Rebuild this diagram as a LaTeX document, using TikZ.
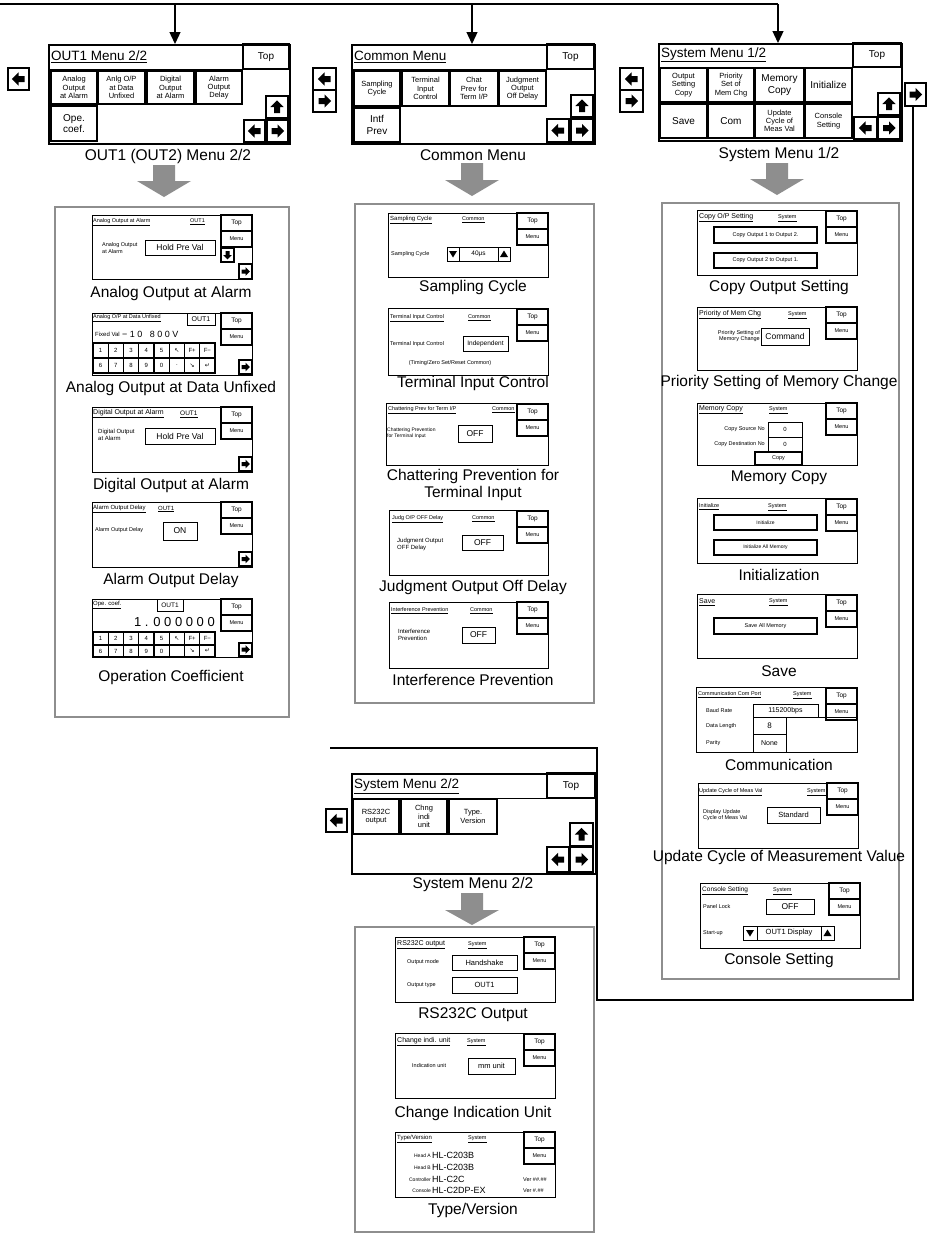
\documentclass[tikz,border=0pt]{standalone}
\usepackage{fontspec}
\setmainfont{Liberation Sans}
\newfontfamily\symf{DejaVu Sans}
\usetikzlibrary{arrows.meta}
\definecolor{grp}{HTML}{8E8E8E}
\definecolor{garr}{HTML}{8E8E8E}
\newcommand{\fs}[2]{\fontsize{#1}{#2}\selectfont}
\tikzset{
  menuframe/.style={draw, line width=1.6pt, inner sep=0pt, anchor=north west},
  thinbox/.style={draw, line width=0.8pt},
  mbtn/.style={draw, line width=1.7pt},
  abst/.style={draw, fill=white, line width=1.1pt},
  pframe/.style={draw, line width=1pt, inner sep=0pt, anchor=north west},
  pbtn/.style={draw, fill=white, line width=1.3pt},
  vbox/.style={draw, line width=0.8pt},
  grpbox/.style={draw=grp, line width=2pt, inner sep=0pt, anchor=north west},
  flow/.style={draw, line width=1.3pt},
  flowtip/.style={-{Triangle[width=11pt,length=12pt]}},
  capt/.style={font=\fs{15.5}{17}, inner sep=0pt, align=center},
  ptl/.style={font=\fs{5.5}{6}, anchor=west, inner sep=0pt},
  plab/.style={font=\fs{5.5}{6.5}, anchor=west, inner sep=0pt, align=left},
  pval/.style={font=\fs{8.5}{9}, inner sep=0pt},
  mtxt/.style={font=\fs{7.5}{8.2}, align=center, inner sep=0pt},
  mttl/.style={font=\fs{13.5}{14}, anchor=west, inner sep=0pt},
  mtop/.style={font=\fs{10}{11}, inner sep=0pt},
}
\newcommand{\icoR}[3]{\fill[shift={(#1,#2)},scale=#3] (-5,-2.5)--(0,-2.5)--(0,-5.5)--(5.5,0)--(0,5.5)--(0,2.5)--(-5,2.5)--cycle;}
\newcommand{\icoL}[3]{\fill[shift={(#1,#2)},scale=#3] (5,-2.5)--(0,-2.5)--(0,-5.5)--(-5.5,0)--(0,5.5)--(0,2.5)--(5,2.5)--cycle;}
\newcommand{\icoU}[3]{\fill[shift={(#1,#2)},scale=#3] (-2.5,5)--(-2.5,0)--(-5.5,0)--(0,-5.5)--(5.5,0)--(2.5,0)--(2.5,5)--cycle;}
\newcommand{\icoD}[3]{\fill[shift={(#1,#2)},scale=#3] (-2.5,-5)--(-2.5,0)--(-5.5,0)--(0,5.5)--(5.5,0)--(2.5,0)--(2.5,-5)--cycle;}
\newcommand{\abtn}[6]{\draw[abst] (#1,#2) rectangle (#3,#4);\pgfmathsetmacro\abx{(#1+#3)/2}\pgfmathsetmacro\aby{(#2+#4)/2}\csname ico#5\endcsname{\abx}{\aby}{#6}}
\newcommand{\topmenu}[2]{\draw[pbtn] (#1-31,#2) rectangle (#1,#2+16);\node[font=\fs{6.5}{7},inner sep=0] at (#1-15.5,#2+8) {Top};\draw[pbtn] (#1-31,#2+16) rectangle (#1,#2+32);\node[font=\fs{5.5}{6},inner sep=0] at (#1-15.5,#2+24) {Menu};}
\newcommand{\pnl}[5]{\node[pframe, minimum width=#4pt, minimum height=#5pt] (#1) at (#2,#3) {};}
\newcommand{\garrow}[4]{\fill[garr] (#1-11,#2) -- (#1+11,#2) -- (#1+11,#3) -- (#1+27,#3) -- (#1,#4) -- (#1-27,#3) -- (#1-11,#3) -- cycle;}
\newcommand{\triD}[2]{\fill (#1-4,#2-3) -- (#1+4,#2-3) -- (#1,#2+3.5) -- cycle;}
\newcommand{\triU}[2]{\fill (#1-4,#2+3) -- (#1+4,#2+3) -- (#1,#2-3.5) -- cycle;}
\newcommand{\keyrow}[4]{\foreach \l [count=\i from 0] in {#4} {\pgfmathsetmacro\ka{#1+\i*15.25}\pgfmathsetmacro\kb{\ka+15.25}\pgfmathsetmacro\kc{\ka+7.625}\draw[line width=1.4pt] (\ka,#2) rectangle (\kb,#3);\node[font=\fs{6}{6},inner sep=0] at (\kc,{(#2+#3)/2}) {\l};}}
\begin{document}
\begin{tikzpicture}[x=1pt,y=-1pt]
\useasboundingbox (0,0) rectangle (927,1235);
\fill[white] (0,0) rectangle (927,1235);

% ---------------- menu frames and flow lines ----------------
\node[menuframe, minimum width=241pt, minimum height=99pt] (m1) at (48,44) {};
\node[menuframe, minimum width=243pt, minimum height=99pt] (m2) at (351,44) {};
\node[menuframe, minimum width=243pt, minimum height=97pt] (m3) at (658,43) {};
\node[menuframe, minimum width=244pt, minimum height=100pt] (m4) at (351,773) {};
\coordinate (t0) at (0,4);
\coordinate (t1) at (175,4);
\coordinate (t2) at (472,4);
\coordinate (t3) at (778,4);
\draw[flow] (t0) -- (t3);
\draw[flow, flowtip] (t1) -- (t1 |- m1.north);
\draw[flow, flowtip] (t2) -- (t2 |- m2.north);
\draw[flow, flowtip] (t3) -- (t3 |- m3.north);
\coordinate (rb) at (913,106);
\coordinate (rc) at (913,1000);
\coordinate (rd) at (597,1000);
\coordinate (re) at (597,748);
\coordinate (rf) at (330,748);
\draw[flow] (rb) -- (rc) -- (rd) -- (re) -- (rf);

% ---------------- Menu 1: OUT1 Menu 2/2 ----------------
\draw[thinbox] (48,44) rectangle (243,69);
\node[mttl] (m1t) at (51,57) {\underline{OUT1 Menu 2/2}};
\draw[mbtn] (243,44) rectangle (289,69);
\node[mtop] (m1top) at (266,57) {Top};
\draw[mbtn] (51,71) rectangle (97,104); \node[mtxt] (m1b1) at (74,87.5) {Analog\\Output\\at Alarm};
\draw[mbtn] (98,71) rectangle (145,104); \node[mtxt] (m1b2) at (121.5,87.5) {Anlg O/P\\at Data\\Unfixed};
\draw[mbtn] (147,71) rectangle (194,104); \node[mtxt] (m1b3) at (170.5,87.5) {Digital\\Output\\at Alarm};
\draw[mbtn] (196,71) rectangle (242,104); \node[mtxt] (m1b4) at (219,87.5) {Alarm\\Output\\Delay};
\draw[mbtn] (51,106) rectangle (97,141); \node[mtxt, font=\fs{10}{11.5}] (m1b5) at (74,123.5) {Ope.\\coef.};
\abtn{266}{96}{288}{118}{U}{1.2}
\abtn{244}{120}{265}{142}{L}{1.2}
\abtn{267}{120}{288}{142}{R}{1.2}
\abtn{8}{68}{29}{90}{L}{1.2}
\node[capt] (c1) at (168,156) {OUT1 (OUT2) Menu 2/2};

% ---------------- Menu 2: Common Menu ----------------
\draw[thinbox] (351,44) rectangle (547,69);
\node[mttl] (m2t) at (354,57) {\underline{Common Menu}};
\draw[mbtn] (547,44) rectangle (594,69);
\node[mtop] (m2top) at (570.5,57) {Top};
\draw[mbtn] (354,71) rectangle (400,106); \node[mtxt] (m2b1) at (377,88.5) {Sampling\\Cycle};
\draw[mbtn] (402,71) rectangle (449,106); \node[mtxt] (m2b2) at (425.5,88.5) {Terminal\\Input\\Control};
\draw[mbtn] (450,71) rectangle (498,106); \node[mtxt] (m2b3) at (474,88.5) {Chat\\Prev for\\Term I/P};
\draw[mbtn] (499,71) rectangle (546,106); \node[mtxt] (m2b4) at (522.5,88.5) {Judgment\\Output\\Off Delay};
\draw[mbtn] (354,108) rectangle (400,142); \node[mtxt, font=\fs{10}{11.5}] (m2b5) at (377,125) {Intf\\Prev};
\abtn{571}{95}{593}{117}{U}{1.2}
\abtn{547}{119}{569}{142}{L}{1.2}
\abtn{571}{119}{593}{142}{R}{1.2}
\abtn{313}{68}{336}{90}{L}{1.2}
\abtn{313}{90}{336}{112}{R}{1.2}
\node[capt] (c2) at (473,155) {Common Menu};

% ---------------- Menu 3: System Menu 1/2 ----------------
\draw[thinbox] (658,43) rectangle (853,67);
\node[mttl] (m3t) at (661,55) {\underline{System Menu 1/2}};
\draw[mbtn] (853,43) rectangle (901,67);
\node[mtop] (m3top) at (877,55) {Top};
\draw[mbtn] (660,68) rectangle (707,102); \node[mtxt] (m3b1) at (683.5,85) {Output\\Setting\\Copy};
\draw[mbtn] (708,68) rectangle (754,102); \node[mtxt] (m3b2) at (731,85) {Priority\\Set of\\Mem Chg};
\draw[mbtn] (755,68) rectangle (804,102); \node[mtxt, font=\fs{10}{11.5}] (m3b3) at (779.5,85) {Memory\\Copy};
\draw[mbtn] (805,68) rectangle (852,102); \node[mtxt, font=\fs{10}{11.5}] (m3b4) at (828.5,85) {Initialize};
\draw[mbtn] (660,104) rectangle (707,138); \node[mtxt, font=\fs{10}{11.5}] (m3b5) at (683.5,121) {Save};
\draw[mbtn] (708,104) rectangle (754,138); \node[mtxt, font=\fs{10}{11.5}] (m3b6) at (731,121) {Com};
\draw[mbtn] (755,104) rectangle (804,138); \node[mtxt] (m3b7) at (779.5,121) {Update\\Cycle of\\Meas Val};
\draw[mbtn] (805,104) rectangle (852,138); \node[mtxt] (m3b8) at (828.5,121) {Console\\Setting};
\abtn{878}{93}{900}{115}{U}{1.2}
\abtn{854}{117}{877}{139}{L}{1.2}
\abtn{878}{117}{900}{139}{R}{1.2}
\abtn{620}{68}{643}{90}{L}{1.2}
\abtn{620}{90}{643}{112}{R}{1.2}
\abtn{905}{83}{926}{106}{R}{1.2}
\node[capt] (c3) at (779,154) {System Menu 1/2};

% ---------------- Menu 4: System Menu 2/2 ----------------
\draw[thinbox] (351,773) rectangle (547,798);
\node[mttl] (m4t) at (354,786) {\underline{System Menu 2/2}};
\draw[mbtn] (547,773) rectangle (595,798);
\node[mtop] (m4top) at (571,786) {Top};
\draw[mbtn] (353,799) rectangle (399,834); \node[mtxt] (m4b1) at (376,816.5) {RS232C\\output};
\draw[mbtn] (401,799) rectangle (447,834); \node[mtxt] (m4b2) at (424,816.5) {Chng\\indi\\unit};
\draw[mbtn] (449,799) rectangle (497,834); \node[mtxt] (m4b3) at (473,816.5) {Type.\\Version};
\abtn{570}{823}{593}{846}{U}{1.2}
\abtn{547}{847}{569}{872}{L}{1.2}
\abtn{570}{847}{593}{872}{R}{1.2}
\abtn{326}{809}{347}{832}{L}{1.2}
\node[capt] (c4) at (473,884) {System Menu 2/2};

% ---------------- gray arrows and group boxes ----------------
\garrow{164}{165}{181}{197}
\garrow{472}{163}{180}{196}
\garrow{777}{163}{179}{195}
\garrow{472}{893}{910}{925}
\node[grpbox, minimum width=234pt, minimum height=510pt] (gL) at (54,206) {};
\node[grpbox, minimum width=239pt, minimum height=499pt] (gM) at (354,203) {};
\node[grpbox, minimum width=237pt, minimum height=776pt] (gR) at (661,202) {};
\node[grpbox, minimum width=239pt, minimum height=305pt] (gB) at (354,926) {};

% ================= LEFT COLUMN =================
\pnl{pA1}{92}{215}{160}{64}
\node[ptl] at (93,222) {\underline{Analog Output at Alarm}};
\node[ptl] at (190,222) {\underline{OUT1}};
\topmenu{252}{215}
\node[plab] at (102,248) {Analog Output\\at Alarm};
\draw[vbox] (145,240) rectangle (215,255); \node[pval] at (180,247.5) {Hold Pre Val};
\abtn{221}{248}{234}{262}{D}{0.8}
\abtn{239}{264}{252}{279}{R}{0.8}
\node[capt] (kA1) at (171,293) {Analog Output at Alarm};

\pnl{pA2}{92}{313}{160}{62}
\node[ptl] at (93,318) {\underline{Analog O/P at Data Unfixed}};
\draw[vbox] (187,313) rectangle (215,325); \node[font=\fs{7}{7},inner sep=0] at (201,319) {OUT1};
\topmenu{252}{313}
\node[ptl, font=\fs{6}{6}] at (95,334) {Fixed Val};
\node[font=\fs{9}{9}, anchor=west, inner sep=0] at (122,334) {− 1 0~~~8 0 0 V};
\keyrow{93}{343}{358}{1,2,3,4,5,{\symf ↖},F+,F−}
\keyrow{93}{358}{373}{6,7,8,9,0,.,{\symf ↘},{\symf ↵}}
\abtn{239}{360}{252}{374}{R}{0.8}
\node[capt] (kA2) at (171,388) {Analog Output at Data Unfixed};

\pnl{pA3}{92}{407}{160}{65}
\node[ptl, font=\fs{7}{7}] at (93,414) {\underline{Digital Output at Alarm}};
\node[ptl, font=\fs{6.5}{7}] at (180,414) {\underline{OUT1}};
\topmenu{252}{407}
\node[plab, font=\fs{6}{7}] at (98,435) {Digital Output\\at Alarm};
\draw[vbox] (145,428) rectangle (215,444); \node[pval] at (180,436) {Hold Pre Val};
\abtn{239}{457}{252}{471}{R}{0.8}
\node[capt] (kA3) at (171,485) {Digital Output at Alarm};

\pnl{pA4}{92}{502}{160}{65}
\node[ptl, font=\fs{6}{6}] at (93,509) {\underline{Alarm Output Delay}};
\node[ptl, font=\fs{6}{6}] at (158,509) {\underline{OUT1}};
\topmenu{252}{502}
\node[plab] at (95,530) {Alarm Output Delay};
\draw[vbox] (163,522) rectangle (197,540); \node[pval] at (180,531) {ON};
\abtn{239}{552}{252}{566}{R}{0.8}
\node[capt] (kA4) at (171,580) {Alarm Output Delay};

\pnl{pA5}{92}{599}{160}{58}
\node[ptl, font=\fs{6}{6}] at (93,605) {\underline{Ope. coef.}};
\draw[vbox] (157,599) rectangle (183,611); \node[font=\fs{6.5}{7},inner sep=0] at (170,605) {OUT1};
\topmenu{252}{599}
\node[font=\fs{13}{13}, anchor=east, inner sep=0] at (215,622) {1 . 0 0 0 0 0 0};
\keyrow{93}{632}{645}{1,2,3,4,5,{\symf ↖},F+,F−}
\keyrow{93}{645}{657}{6,7,8,9,0,{},{\symf ↘},{\symf ↵}}
\abtn{239}{643}{252}{656}{R}{0.8}
\node[capt] (kA5) at (171,677) {Operation Coefficient};

% ================= MIDDLE COLUMN =================
\pnl{pB1}{388}{213}{160}{64}
\node[ptl, font=\fs{6}{6}] at (390,220) {\underline{Sampling Cycle}};
\node[ptl] at (462,220) {\underline{Common}};
\topmenu{548}{213}
\node[plab] at (391,254) {Sampling Cycle};
\draw[vbox] (447,247) rectangle (459,261); \triD{453}{254}
\draw[vbox] (459,247) rectangle (498,261); \node[font=\fs{6.5}{7},inner sep=0] at (478.5,254) {40μs};
\draw[vbox] (498,247) rectangle (510,261); \triU{504}{254}
\node[capt] (kB1) at (473,287) {Sampling Cycle};

\pnl{pB2}{388}{308}{160}{67}
\node[ptl] at (390,318) {\underline{Terminal Input Control}};
\node[ptl] at (468,318) {\underline{Common}};
\topmenu{548}{309}
\node[plab] at (390,344) {Terminal Input Control};
\draw[vbox] (463,336) rectangle (508,351); \node[font=\fs{6.5}{7},inner sep=0] at (485.5,343.5) {Independent};
\node[font=\fs{5.5}{6},inner sep=0] at (450,363) {(Timing/Zero Set/Reset Common)};
\node[capt] (kB2) at (473,383) {Terminal Input Control};

\pnl{pB3}{386}{403}{162}{62}
\node[ptl] at (388,410) {\underline{Chattering Prev for Term I/P}};
\node[ptl] at (492,410) {\underline{Common}};
\topmenu{548}{404}
\node[plab, font=\fs{5}{6}] at (387,433) {Chattering Prevention\\for Terminal Input};
\draw[vbox] (458,425) rectangle (492,442); \node[pval] at (475,433.5) {OFF};
\node[capt] (kB3) at (473,485) {Chattering Prevention for\\Terminal Input};

\pnl{pB4}{389}{510}{159}{65}
\node[ptl] at (392,519) {\underline{Judg O/P OFF Delay}};
\node[ptl] at (472,519) {\underline{Common}};
\topmenu{548}{511}
\node[plab, font=\fs{6}{7}] at (397,544) {Judgment Output\\OFF Delay};
\draw[vbox] (462,535) rectangle (503,550); \node[pval] at (482.5,542.5) {OFF};
\node[capt] (kB4) at (473,587) {Judgment Output Off Delay};

\pnl{pB5}{389}{602}{159}{66}
\node[ptl] at (391,611) {\underline{Interference Prevention}};
\node[ptl] at (470,611) {\underline{Common}};
\topmenu{548}{602}
\node[plab, font=\fs{6}{7}] at (398,635) {Interference\\Prevention};
\draw[vbox] (462,627) rectangle (495,643); \node[pval] at (478.5,635) {OFF};
\node[capt] (kB5) at (473,680) {Interference Prevention};

% ================= RIGHT COLUMN =================
\pnl{pC1}{697}{210}{160}{65}
\node[ptl, font=\fs{7}{7}] at (699,218) {\underline{Copy O/P Setting}};
\node[ptl] at (778,218) {\underline{System}};
\topmenu{857}{211}
\draw[pbtn] (714,227) rectangle (817,243); \node[font=\fs{5.5}{6},inner sep=0] at (765.5,235) {Copy Output 1 to Output 2.};
\draw[pbtn] (714,253) rectangle (817,268); \node[font=\fs{5.5}{6},inner sep=0] at (765.5,260.5) {Copy Output 2 to Output 1.};
\node[capt] (kC1) at (779,287) {Copy Output Setting};

\pnl{pC2}{697}{307}{160}{63}
\node[ptl, font=\fs{7}{7}] at (699,315) {\underline{Priority of Mem Chg}};
\node[ptl] at (788,315) {\underline{System}};
\topmenu{857}{307}
\node[font=\fs{5.5}{6.5}, anchor=east, align=right, inner sep=0] at (760,336) {Priority Setting of\\Memory Change};
\draw[vbox] (761,328) rectangle (809,345); \node[pval] at (785,336.5) {Command};
\node[capt] (kC2) at (779,382) {Priority Setting of Memory Change};

\pnl{pC3}{697}{403}{160}{62}
\node[ptl, font=\fs{7}{7}] at (699,410) {\underline{Memory Copy}};
\node[ptl] at (769,410) {\underline{System}};
\topmenu{857}{403}
\node[font=\fs{5.5}{6}, anchor=east, inner sep=0] at (765,429.5) {Copy Source No};
\draw[vbox] (768,422) rectangle (802,437); \node[font=\fs{6}{6},inner sep=0] at (785,429.5) {0};
\node[font=\fs{5.5}{6}, anchor=east, inner sep=0] at (765,444.5) {Copy Destination No};
\draw[vbox] (768,437) rectangle (802,452); \node[font=\fs{6}{6},inner sep=0] at (785,444.5) {0};
\draw[pbtn] (755,452) rectangle (802,465); \node[font=\fs{5.5}{6},inner sep=0] at (778.5,458.5) {Copy};
\node[capt] (kC3) at (779,478) {Memory Copy};

\pnl{pC4}{697}{498}{160}{65}
\node[ptl] at (699,507) {\underline{Initialize}};
\node[ptl] at (768,507) {\underline{System}};
\topmenu{857}{499}
\draw[pbtn] (714,515) rectangle (817,530); \node[font=\fs{5}{6},inner sep=0] at (765.5,522.5) {Initialize};
\draw[pbtn] (714,540) rectangle (817,555); \node[font=\fs{5}{6},inner sep=0] at (765.5,547.5) {Initialize All Memory};
\node[capt] (kC4) at (779,575) {Initialization};

\pnl{pC5}{697}{594}{160}{64}
\node[ptl, font=\fs{7}{7}] at (699,602) {\underline{Save}};
\node[ptl] at (769,602) {\underline{System}};
\topmenu{857}{595}
\draw[pbtn] (714,618) rectangle (817,634); \node[font=\fs{5.5}{6},inner sep=0] at (765.5,626) {Save All Memory};
\node[capt] (kC5) at (779,671) {Save};

\pnl{pC6}{696}{687}{161}{65}
\node[ptl] at (698,695) {\underline{Communication Com Port}};
\node[ptl] at (793,695) {\underline{System}};
\topmenu{857}{688}
\node[plab] at (706,711) {Baud Rate};
\draw[vbox] (753,704) rectangle (818,717); \node[font=\fs{7}{7},inner sep=0] at (785.5,710.5) {115200bps};
\node[plab] at (706,726) {Data Length};
\draw[vbox] (753,717) rectangle (786,734); \node[font=\fs{8}{8},inner sep=0] at (769.5,725.5) {8};
\node[plab] at (706,743) {Parity};
\draw[vbox] (753,734) rectangle (786,752); \node[font=\fs{7}{7},inner sep=0] at (769.5,743) {None};
\draw[vbox] (818,717) -- (857,717);
\node[capt] (kC6) at (779,765) {Communication};

\pnl{pC7}{698}{783}{160}{65}
\node[ptl] at (699,792) {\underline{Update Cycle of Meas Val}};
\node[ptl] at (807,792) {\underline{System}};
\topmenu{858}{783}
\node[plab] at (703,815) {Display Update\\Cycle of Meas Val};
\draw[vbox] (767,807) rectangle (820,823); \node[font=\fs{7.5}{8},inner sep=0] at (793.5,815) {Standard};
\node[capt] (kC7) at (779,857) {Update Cycle of Measurement Value};

\pnl{pC8}{700}{883}{160}{65}
\node[ptl, font=\fs{6.5}{7}] at (702,891) {\underline{Console Setting}};
\node[ptl] at (773,891) {\underline{System}};
\topmenu{860}{883}
\node[plab] at (703,907) {Panel Lock};
\draw[vbox] (766,899) rectangle (814,914); \node[pval] at (790,906.5) {OFF};
\node[plab] at (703,933) {Start-up};
\draw[vbox] (743,926) rectangle (757,940); \triD{750}{933}
\draw[vbox] (757,926) rectangle (821,940); \node[font=\fs{7.5}{8},inner sep=0] at (789,933) {OUT1 Display};
\draw[vbox] (821,926) rectangle (834,940); \triU{827.5}{933}
\node[capt] (kC8) at (779,960) {Console Setting};

% ================= BOTTOM COLUMN =================
\pnl{pD1}{395}{937}{160}{65}
\node[ptl, font=\fs{7}{7}] at (397,945) {\underline{RS232C output}};
\node[ptl] at (468,945) {\underline{System}};
\topmenu{555}{937}
\node[plab] at (407,962.5) {Output mode};
\draw[vbox] (452,955) rectangle (517,970); \node[font=\fs{7.5}{8},inner sep=0] at (484.5,962.5) {Handshake};
\node[plab] at (407,985) {Output type};
\draw[vbox] (452,977) rectangle (517,993); \node[font=\fs{7.5}{8},inner sep=0] at (484.5,985) {OUT1};
\node[capt] (kD1) at (473,1015) {RS232C Output};

\pnl{pD2}{395}{1033}{160}{65}
\node[ptl, font=\fs{7}{7}] at (397,1042) {\underline{Change indi. unit}};
\node[ptl] at (467,1042) {\underline{System}};
\topmenu{555}{1034}
\node[plab] at (412,1066) {Indication unit};
\draw[vbox] (468,1058) rectangle (515,1074); \node[font=\fs{7.5}{8},inner sep=0] at (491.5,1066) {mm unit};
\node[capt] (kD2) at (473,1113) {Change Indication Unit};

\pnl{pD3}{395}{1132}{160}{65}
\node[ptl, font=\fs{6}{6}] at (397,1139) {\underline{Type/Version}};
\node[ptl] at (468,1139) {\underline{System}};
\topmenu{555}{1132}
\node[font=\fs{5}{5}, anchor=east, inner sep=0] at (431,1156) {Head A};
\node[font=\fs{9}{9}, anchor=west, inner sep=0] at (432,1155) {HL-C203B};
\node[font=\fs{5}{5}, anchor=east, inner sep=0] at (431,1168) {Head B};
\node[font=\fs{9}{9}, anchor=west, inner sep=0] at (432,1167) {HL-C203B};
\node[font=\fs{5}{5}, anchor=east, inner sep=0] at (431,1180) {Controller};
\node[font=\fs{9}{9}, anchor=west, inner sep=0] at (432,1179) {HL-C2C};
\node[font=\fs{5.5}{6}, anchor=west, inner sep=0] at (523,1180) {Ver \#\#.\#\#};
\node[font=\fs{5}{5}, anchor=east, inner sep=0] at (431,1191) {Console};
\node[font=\fs{9}{9}, anchor=west, inner sep=0] at (432,1190) {HL-C2DP-EX};
\node[font=\fs{5.5}{6}, anchor=west, inner sep=0] at (523,1191) {Ver \#.\#\#};
\node[capt] (kD3) at (473,1210) {Type/Version};
\end{tikzpicture}
\end{document}
